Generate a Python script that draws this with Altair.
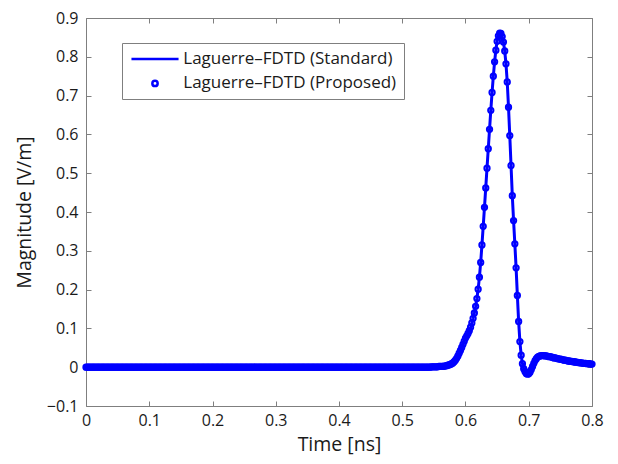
import altair as alt
import pandas as pd

# ---------------- data ----------------
series_names = ["Laguerre\u2013FDTD (Standard)", "Laguerre\u2013FDTD (Proposed)"]
x_ticks = [0, 0.1, 0.2, 0.3, 0.4, 0.5, 0.6, 0.7, 0.8]
y_ticks = [-0.1, 0, 0.1, 0.2, 0.3, 0.4, 0.5, 0.6, 0.7, 0.8, 0.9]
time_step_ns = 0.002

# flat part (0 .. 0.538 ns) reads as zero
flat_part = [0.0] * 270
# pulse part, 0.540 .. 0.800 ns, every 0.002 ns
pulse_part = [
    0.000, 0.000, 0.000, 0.001, 0.001, 0.001, 0.001, 0.001, 0.001, 0.002,
    0.002, 0.002, 0.002, 0.003, 0.003, 0.004, 0.005, 0.006, 0.007, 0.009,
    0.011, 0.014, 0.018, 0.023, 0.029, 0.036, 0.043, 0.051, 0.059, 0.067,
    0.075, 0.081, 0.087, 0.094, 0.103, 0.114, 0.126, 0.140, 0.157, 0.177,
    0.201, 0.232, 0.270, 0.315, 0.363, 0.412, 0.462, 0.513, 0.563, 0.613,
    0.662, 0.708, 0.750, 0.787, 0.817, 0.840, 0.854, 0.861, 0.860, 0.852,
    0.838, 0.815, 0.782, 0.735, 0.670, 0.597, 0.520, 0.442, 0.378, 0.318,
    0.256, 0.185, 0.118, 0.066, 0.031, 0.009, -0.004, -0.011, -0.016, -0.018,
    -0.017, -0.013, -0.006, 0.002, 0.010, 0.017, 0.022, 0.026, 0.028, 0.029,
    0.030, 0.030, 0.030, 0.029, 0.029, 0.028, 0.027, 0.027, 0.026, 0.025,
    0.024, 0.024, 0.023, 0.022, 0.021, 0.021, 0.020, 0.019, 0.018, 0.018,
    0.017, 0.016, 0.016, 0.015, 0.015, 0.014, 0.014, 0.013, 0.013, 0.012,
    0.012, 0.011, 0.011, 0.010, 0.010, 0.010, 0.009, 0.009, 0.009, 0.008,
    0.008,
]
magnitude = flat_part + pulse_part
time_ns = [round(i * time_step_ns, 3) for i in range(len(magnitude))]

df_std = pd.DataFrame({"t": time_ns, "v": magnitude, "series": series_names[0]})
df_prop = pd.DataFrame({"t": time_ns, "v": magnitude, "series": series_names[1]})

# ---------------- styling ----------------
FONT = "Open Sans"
BLUE = "#0000ff"
GRAY = "#7f7f7f"
TXT = "#1a1a1a"
W, H = 506, 388
LEG_FS = 17

x_scale = alt.Scale(domain=[0, 0.8], nice=False, zero=False)
y_scale = alt.Scale(domain=[-0.1, 0.9], nice=False, zero=False)


def frame_axis(orient, values, labels, title="", **kw):
    return alt.Axis(
        orient=orient, values=values, format="~g", labels=labels, title=title,
        ticks=False, grid=True, gridDash=[5, 2000], gridColor=GRAY,
        gridOpacity=1, gridWidth=1, domainColor=GRAY, domainWidth=1,
        labelFont=FONT, labelFontSize=16, labelColor=TXT, labelFlush=False,
        titleFont=FONT, titleFontSize=19.5, titleFontWeight="normal",
        titleColor=TXT, **kw,
    )


line = alt.Chart(df_std).mark_line(color=BLUE, strokeWidth=3).encode(
    x=alt.X("t:Q", scale=x_scale,
            axis=frame_axis("bottom", x_ticks, True, "Time [ns]",
                            labelPadding=6, titleX=W / 2, titleY=38,
                            titleBaseline="middle", titleAlign="center")),
    y=alt.Y("v:Q", scale=y_scale,
            axis=frame_axis("left", y_ticks, True, "Magnitude [V/m]",
                            labelPadding=8, titleX=-62, titleY=H / 2,
                            titleAngle=270, titleBaseline="middle",
                            titleAlign="center")),
)

points = alt.Chart(df_prop).mark_point(
    filled=False, color=BLUE, strokeWidth=2, size=28, opacity=1
).encode(
    x=alt.X("t:Q", scale=x_scale, axis=frame_axis("top", x_ticks, False)),
    y=alt.Y("v:Q", scale=y_scale, axis=frame_axis("right", y_ticks, False)),
    shape=alt.Shape(
        "series:N",
        scale=alt.Scale(domain=series_names, range=["M-8.9,0H8.9", "circle"]),
        legend=alt.Legend(
            title=None, orient="none", legendX=36, legendY=25,
            direction="vertical", padding=7.5, rowPadding=23.4 - LEG_FS,
            strokeColor=GRAY, fillColor="white",
            symbolSize=28, symbolStrokeWidth=2.5, symbolStrokeColor=BLUE,
            symbolFillColor="transparent", symbolOpacity=1,
            symbolOffset=25.5 - LEG_FS / 2,
            labelOffset=53.8 - LEG_FS - (25.5 - LEG_FS / 2),
            labelFont=FONT, labelFontSize=LEG_FS, labelColor=TXT,
            labelLimit=600,
            labelExpr="datum.label + '\u00a0\u00a0\u00a0\u00a0\u00a0\u00a0'",
        ),
    ),
)

chart = (
    alt.layer(line, points)
    .resolve_axis(x="independent", y="independent")
    .properties(
        width=W, height=H,
        autosize=alt.AutoSizeParams(type="none"),
        padding={"left": 78, "top": 10, "right": 14, "bottom": 56},
    )
    .configure_view(strokeWidth=0)
)

chart.save("out.html", embed_options={"renderer": "svg", "actions": False})
